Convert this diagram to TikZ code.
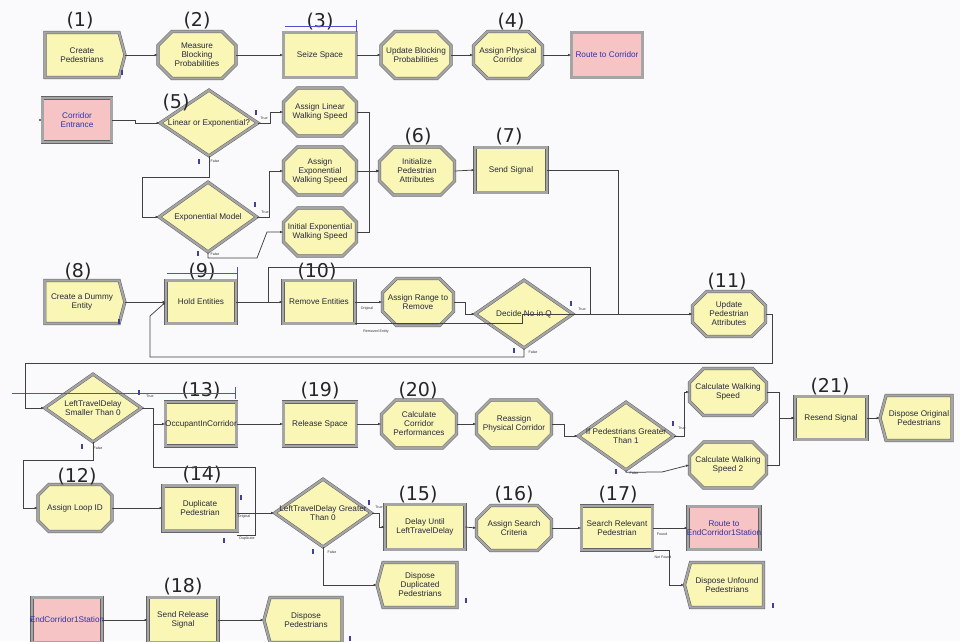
\documentclass[tikz,border=0pt]{standalone}
\usepackage{fontspec}
\setmainfont{Liberation Sans}
\newfontfamily\numfont{DejaVu Sans}
\usetikzlibrary{shapes.geometric,shapes.misc,shapes.symbols,arrows.meta}
\definecolor{modfill}{RGB}{250,247,182}
\definecolor{stnfill}{RGB}{246,196,196}
\definecolor{rim}{RGB}{165,165,165}
\definecolor{rimdark}{RGB}{100,100,100}
\definecolor{wirec}{RGB}{65,65,65}
\definecolor{modtext}{RGB}{40,40,60}
\definecolor{stntext}{RGB}{50,50,170}
\definecolor{qline}{RGB}{80,80,200}
\definecolor{paper}{RGB}{250,250,252}
\begin{document}
\begin{tikzpicture}[x=1pt,y=1pt,
    every node/.append style={inner sep=0pt},
    module/.style={fill=modfill, draw=rimdark, line width=0.5pt, double=rim, double distance=2.2pt, inner xsep=-10pt, font=\fontsize{8.2}{9}\selectfont, text=modtext, align=center},
    box/.style={module, rectangle, minimum width=72, minimum height=45},
    asg/.style={module, chamfered rectangle, chamfered rectangle xsep=7pt, chamfered rectangle ysep=7pt, minimum width=74, minimum height=47},
    dec/.style={module, diamond, aspect=1.45, inner xsep=-22pt, inner ysep=-4pt, minimum width=98, minimum height=68},
    create/.style={module, signal, signal to=east, signal pointer angle=150, minimum width=80, minimum height=45},
    dispose/.style={module, signal, signal to=west, signal pointer angle=150, minimum width=78, minimum height=45},
    stn/.style={module, rectangle, fill=stnfill, text=stntext, minimum width=71, minimum height=45},
    num/.style={font=\numfont\fontsize{19}{19}\selectfont, text=black!85},
    tag/.style={font=\fontsize{3.6}{4}\selectfont, text=black!80},
    wire/.style={draw=wirec, line width=0.75pt},
    link/.style={wire, -{Latex[length=3.2pt,width=2.6pt]}},
    queue/.style={draw=qline, line width=0.8pt},
    cnt/.style={fill=qline!80!black}
  ]
    \fill[paper] (0,0) rectangle (960,-641);
    \useasboundingbox (0,0) rectangle (960,-641);

    \node[create] (cp) at (82,-55) {Create\\Pedestrians};
    \node[asg, minimum width=78] (mbp) at (197,-55) {Measure\\Blocking\\Probabilities};
    \node[box, minimum width=73] (ss) at (320,-55) {Seize Space};
    \node[asg, minimum width=70] (ubp) at (416,-55) {Update Blocking\\Probabilities};
    \node[asg, minimum width=69] (apc) at (508,-55) {Assign Physical\\Corridor};
    \node[stn] (rtc) at (607,-55) {Route to Corridor};

    \node[stn, minimum width=69, minimum height=44] (ce) at (77,-120) {Corridor\\Entrance};
    \node[dec, minimum height=66] (loe) at (209,-123) {Linear or Exponential?};
    \node[asg, minimum width=73, minimum height=48] (alws) at (320,-112) {Assign Linear\\Walking Speed};
    \node[asg, minimum width=73, minimum height=48] (aews) at (320,-171) {Assign\\Exponential\\Walking Speed};
    \node[asg, minimum width=73, minimum height=48] (iews) at (320,-232) {Initial Exponential\\Walking Speed};
    \node[dec, minimum height=70] (em) at (208,-217) {Exponential Model};
    \node[asg, minimum width=75, minimum height=48] (ipa) at (417,-171) {Initialize\\Pedestrian\\Attributes};
    \node[box] (sgn) at (511,-170) {Send Signal};

    \node[create, minimum height=43] (cde) at (82,-302) {Create a Dummy\\Entity};
    \node[box, minimum width=70, minimum height=43] (he) at (201,-302) {Hold Entities};
    \node[box, minimum height=43] (re) at (319,-302) {Remove Entities};
    \node[asg, minimum width=71] (arr) at (418,-302) {Assign Range to\\Remove};
    \node[dec] (dnq) at (524,-314) {Decide No in Q};
    \node[asg, minimum width=73, minimum height=45] (upa) at (729,-314) {Update\\Pedestrian\\Attributes};

    \node[dec, minimum width=97] (ltds) at (93,-408) {LeftTravelDelay\\Smaller Than 0};
    \node[box, minimum width=71, minimum height=44] (oic) at (201,-424) {OccupantInCorridor};
    \node[box, minimum width=73, minimum height=44] (rs) at (320,-424) {Release Space};
    \node[asg, minimum width=75, minimum height=48] (ccp) at (419,-424) {Calculate\\Corridor\\Performances};
    \node[asg, minimum width=75, minimum height=48] (rpc) at (514,-424) {Reassign\\Physical Corridor};
    \node[dec, minimum width=96] (ipg) at (626,-436) {If Pedestrians Greater\\Than 1};
    \node[asg, minimum width=77] (cws) at (728,-392) {Calculate Walking\\Speed};
    \node[asg, minimum width=77, minimum height=46] (cws2) at (728,-465) {Calculate Walking\\Speed 2};
    \node[box, minimum height=43] (rsg) at (831,-418) {Resend Signal};
    \node[dispose, minimum width=72] (dop) at (919,-418) {Dispose Original\\Pedestrians};

    \node[asg] (alid) at (75,-508) {Assign Loop ID};
    \node[box, minimum width=74, double distance=3pt] (dup) at (200,-508) {Duplicate\\Pedestrian};
    \node[dec, minimum width=97] (ltdg) at (323,-513) {LeftTravelDelay Greater\\Than 0};
    \node[box, minimum width=80] (dul) at (425,-527) {Delay Until\\LeftTravelDelay};
    \node[asg, minimum width=75, minimum height=45] (asc) at (514,-528) {Assign Search\\Criteria};
    \node[box, minimum width=71, minimum height=44] (srp) at (617,-528) {Search Relevant\\Pedestrian};
    \node[stn, minimum width=72, minimum height=43] (rte) at (724,-528) {Route to\\EndCorridor1Station};
    \node[dispose, minimum width=79] (dufp) at (727,-585) {Dispose Unfound\\Pedestrians};
    \node[dispose, minimum width=80] (ddp) at (420,-585) {Dispose\\Duplicated\\Pedestrians};

    \node[stn, minimum width=70] (ecs) at (67,-620) {EndCorridor1Station};
    \node[box, minimum width=70] (srs) at (183,-620) {Send Release\\Signal};
    \node[dispose] (dpd) at (306,-620) {Dispose\\Pedestrians};

    \node[num] (n1) at (80,-21) {(1)};
    \node[num] (n2) at (197,-21) {(2)};
    \node[num] (n3) at (320,-22) {(3)};
    \node[num] (n4) at (511,-22) {(4)};
    \node[num] (n5) at (176,-103) {(5)};
    \node[num] (n6) at (418,-137) {(6)};
    \node[num] (n7) at (509,-137) {(7)};
    \node[num] (n8) at (78,-272) {(8)};
    \node[num] (n9) at (202,-272) {(9)};
    \node[num] (n10) at (317,-272) {(10)};
    \node[num] (n11) at (727,-282) {(11)};
    \node[num] (n12) at (77,-477) {(12)};
    \node[num] (n13) at (201,-391) {(13)};
    \node[num] (n14) at (202,-475) {(14)};
    \node[num] (n15) at (418,-495) {(15)};
    \node[num] (n16) at (514,-495) {(16)};
    \node[num] (n17) at (618,-495) {(17)};
    \node[num] (n18) at (183,-587) {(18)};
    \node[num] (n19) at (320,-391) {(19)};
    \node[num] (n20) at (418,-391) {(20)};
    \node[num] (n21) at (830,-387) {(21)};

    \draw[queue] (285,-26) -- (356,-26);
    \draw[queue] (356,-20) -- (356,-32);
    \draw[queue] (167,-273) -- (237,-273);
    \draw[queue] (237,-267) -- (237,-279);
    \draw[queue] (12,-393) -- (235,-393);
    \draw[queue] (235,-387) -- (235,-399);

    \coordinate (jt) at (153,-424);
    \coordinate (jd) at (255,-467);
    \coordinate (jo) at (255,-513);
    \coordinate (jdup) at (255,-535);

    \draw[link] (cp.east) -- (mbp.west);
    \draw[link] (mbp.east) -- (ss.west);
    \draw[link] (ss.east) -- (ubp.west);
    \draw[link] (ubp.east) -- (apc.west);
    \draw[link] (apc.east) -- (rtc.west);
    \draw[link] (ce.east) -- ++(24,0) |- (loe.west);
    \draw[link] (loe.east) -- ++(12,0) |- (alws.west);
    \draw[link] (loe.south) |- (142,-177) |- (em.west);
    \draw[link] (em.east) -- ++(12,0) |- (aews.west);
    \draw[link] (em.south) |- (257,-258) -- (267,-232) -- (iews.west);
    \draw[link] (alws.east) -- ++(13,0) |- (ipa.west);
    \draw[link] (aews.east) -- (ipa.west);
    \draw[link] (iews.east) -- ++(13,0) |- (ipa.west);
    \draw[link] (ipa.east) -- (sgn.west);
    \draw[link] (sgn.east) -| (618,-314) -- (upa.west);
    \draw[link] (cde.east) -- (he.west);
    \draw[link] (he.east) -- (re.west);
    \draw[link] (re.east) -- (arr.west);
    \draw[link] (arr.east) -- ++(12,0) |- (dnq.west);
    \draw[wire] (dnq.east) -- (590,-314) |- (268,-267) -- (268,-302);
    \draw[link] (dnq.south) |- (150,-357) -- (150,-316) -- (he.west);
    \draw[link] (re.south east) -| (522,-314) -- (upa.west);
    \draw[link] (upa.east) -- (772,-314) |- (25,-363) |- (ltds.west);
    \draw[link] (ltds.east) -| (jt) -- (oic.west);
    \draw[wire] (jt) |- (jd) -- (jo);
    \draw[wire] (dup.east |- jdup) -- (jdup) -- (jo);
    \draw[link] (dup.east |- jo) -- (jo) -- (ltdg.west);
    \draw[link] (oic.east) -- (rs.west);
    \draw[link] (rs.east) -- (ccp.west);
    \draw[link] (ccp.east) -- (rpc.west);
    \draw[link] (rpc.east) -- ++(13,0) |- (ipg.west);
    \draw[link] (ipg.east) -- ++(10,0) |- (cws.west);
    \draw[link] (ipg.south) -- ++(0,-2) -- (662,-472) -- (cws2.west);
    \draw[link] (cws.east) -- ++(13,0) |- (rsg.west);
    \draw[link] (cws2.east) -- ++(13,0) |- (rsg.west);
    \draw[link] (rsg.east) -- (dop.west);
    \draw[link] (ltds.south) |- (23,-460) |- (alid.west);
    \draw[link] (alid.east) -- (dup.west);
    \draw[link] (ltdg.east) -- ++(8,0) |- (dul.west);
    \draw[link] (ltdg.south) |- (ddp.west);
    \draw[link] (dul.east) -- (asc.west);
    \draw[link] (asc.east) -- (srp.west);
    \draw[link] (srp.east) -- (rte.west);
    \draw[link] (srp.south east) -- ++(17,0) |- (dufp.west);
    \draw[link] (ecs.east) -- (srs.west);
    \draw[link] (srs.east) -- (dpd.west);
    \fill[wirec] (40,-120) circle (1.1);
    \fill[stntext] (31,-620) circle (1.1);

    \node[tag] (tt1) at (264,-118) {True};
    \node[tag] (tf1) at (215,-161) {False};
    \node[tag] (tt2) at (265,-212) {True};
    \node[tag] (tf2) at (215,-254) {False};
    \node[tag] (tt3) at (582,-309) {True};
    \node[tag] (tf3) at (533,-352) {False};
    \node[tag] (to1) at (367,-309) {Original};
    \node[tag] (tr1) at (376,-332) {Removed Entity};
    \node[tag] (tt4) at (150,-396) {True};
    \node[tag] (tf4) at (98,-448) {False};
    \node[tag] (to2) at (244,-517) {Original};
    \node[tag] (td2) at (247,-539) {Duplicate};
    \node[tag] (tt5) at (379,-507) {True};
    \node[tag] (tf5) at (332,-552) {False};
    \node[tag] (tt6) at (682,-428) {True};
    \node[tag] (tf6) at (634,-473) {False};
    \node[tag] (tfd) at (662,-534) {Found};
    \node[tag] (tnf) at (663,-557) {Not Found};

    \fill[cnt] (121.3,-69.5) rectangle ++(1.5,-5);
    \fill[cnt] (255.3,-110) rectangle ++(1.5,-5);
    \fill[cnt] (198.3,-158.5) rectangle ++(1.5,-5);
    \fill[cnt] (254.3,-202) rectangle ++(1.5,-5);
    \fill[cnt] (197.3,-250.5) rectangle ++(1.5,-5);
    \fill[cnt] (118.3,-318.5) rectangle ++(1.5,-5);
    \fill[cnt] (570.3,-300.5) rectangle ++(1.5,-5);
    \fill[cnt] (513.3,-348) rectangle ++(1.5,-5);
    \fill[cnt] (138.3,-390) rectangle ++(1.5,-5);
    \fill[cnt] (81.3,-443.5) rectangle ++(1.5,-5);
    \fill[cnt] (240.3,-495) rectangle ++(1.5,-5);
    \fill[cnt] (223.3,-537.5) rectangle ++(1.5,-5);
    \fill[cnt] (368.3,-499.5) rectangle ++(1.5,-5);
    \fill[cnt] (312.3,-548.5) rectangle ++(1.5,-5);
    \fill[cnt] (672.3,-420.5) rectangle ++(1.5,-5);
    \fill[cnt] (615.3,-469) rectangle ++(1.5,-5);
    \fill[cnt] (465.3,-597.5) rectangle ++(1.5,-5);
    \fill[cnt] (772.3,-602.5) rectangle ++(1.5,-5);
    \fill[cnt] (349.3,-635.5) rectangle ++(1.5,-5);
\end{tikzpicture}
\end{document}
